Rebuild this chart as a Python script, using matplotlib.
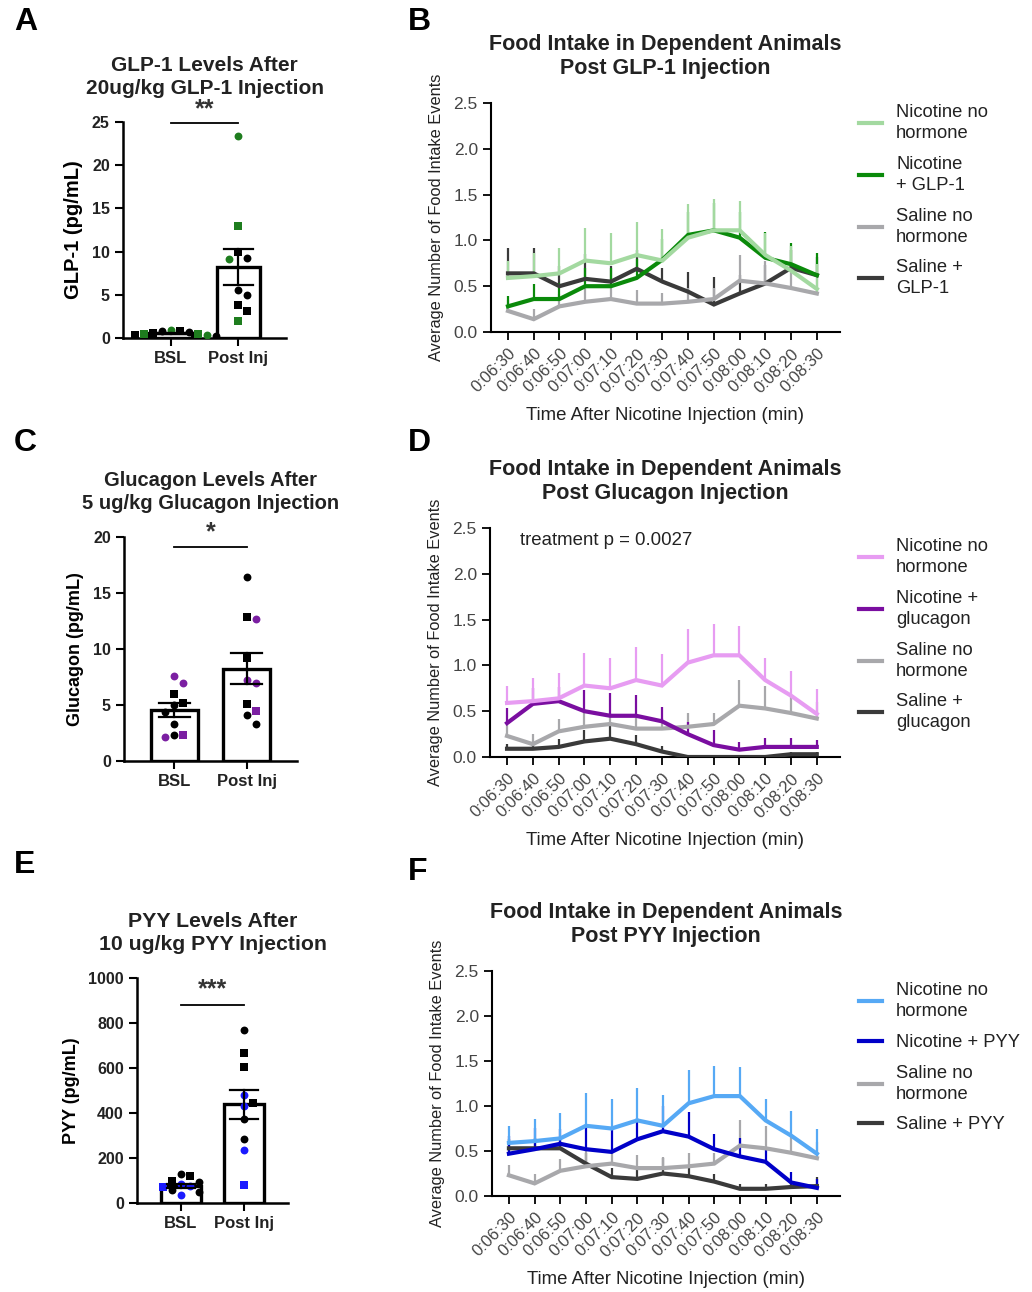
import numpy as np
import matplotlib
matplotlib.use("Agg")
import matplotlib.pyplot as plt

plt.rcParams['font.family'] = ['Liberation Sans', 'DejaVu Sans']

# ---------------- data ----------------
time_labels = ["0:06:30", "0:06:40", "0:06:50", "0:07:00", "0:07:10", "0:07:20", "0:07:30",
               "0:07:40", "0:07:50", "0:08:00", "0:08:10", "0:08:20", "0:08:30"]

nic_no_mean = [0.59, 0.61, 0.64, 0.78, 0.75, 0.84, 0.78, 1.03, 1.11, 1.11, 0.84, 0.67, 0.47]
nic_no_sem = [0.19, 0.25, 0.28, 0.36, 0.33, 0.36, 0.34, 0.37, 0.34, 0.32, 0.24, 0.27, 0.27]
sal_no_mean = [0.23, 0.14, 0.28, 0.33, 0.36, 0.31, 0.31, 0.33, 0.36, 0.56, 0.53, 0.48, 0.42]
sal_no_sem = [0.12, 0.11, 0.13, 0.17, 0.12, 0.15, 0.12, 0.15, 0.12, 0.28, 0.25, 0.20, 0.18]

nic_glp_mean = [0.28, 0.36, 0.36, 0.50, 0.50, 0.59, 0.79, 1.06, 1.11, 1.03, 0.81, 0.74, 0.62]
nic_glp_sem = [0.11, 0.16, 0.18, 0.20, 0.20, 0.21, 0.22, 0.25, 0.30, 0.28, 0.28, 0.23, 0.24]
sal_glp_mean = [0.64, 0.64, 0.50, 0.58, 0.55, 0.69, 0.55, 0.44, 0.30, 0.42, 0.53, 0.70, 0.62]
sal_glp_sem = [0.28, 0.28, 0.22, 0.27, 0.17, 0.20, 0.15, 0.22, 0.30, 0.20, 0.20, 0.20, 0.20]

nic_gcg_mean = [0.37, 0.58, 0.61, 0.50, 0.45, 0.45, 0.39, 0.25, 0.13, 0.08, 0.11, 0.11, 0.11]
nic_gcg_sem = [0.17, 0.17, 0.15, 0.23, 0.25, 0.23, 0.16, 0.13, 0.16, 0.08, 0.10, 0.10, 0.08]
sal_gcg_mean = [0.09, 0.09, 0.11, 0.17, 0.20, 0.14, 0.06, 0.00, 0.00, 0.00, 0.00, 0.03, 0.03]
sal_gcg_sem = [0.05, 0.06, 0.09, 0.12, 0.18, 0.10, 0.06, 0.00, 0.00, 0.00, 0.00, 0.03, 0.03]

nic_pyy_mean = [0.47, 0.52, 0.58, 0.52, 0.49, 0.63, 0.72, 0.66, 0.52, 0.44, 0.38, 0.15, 0.09]
nic_pyy_sem = [0.20, 0.24, 0.17, 0.25, 0.28, 0.24, 0.28, 0.27, 0.17, 0.20, 0.15, 0.12, 0.10]
sal_pyy_mean = [0.53, 0.53, 0.53, 0.36, 0.21, 0.19, 0.25, 0.22, 0.16, 0.08, 0.08, 0.10, 0.11]
sal_pyy_sem = [0.10, 0.12, 0.10, 0.12, 0.10, 0.10, 0.17, 0.10, 0.08, 0.05, 0.05, 0.05, 0.10]

bar_groups = ["BSL", "Post Inj"]

# GLP-1 levels
glp_bar_mean = [0.55, 8.2]
glp_bar_sem = [0.08, 2.1]
glp_bsl_vals = [0.8, 0.6, 0.3, 0.9, 0.35, 0.5, 0.45, 0.25, 0.85, 0.7]
glp_bsl_hormone = [0, 0, 0, 1, 1, 1, 1, 0, 0, 0]
glp_bsl_square = [0, 1, 1, 0, 0, 1, 1, 0, 1, 0]
glp_post_vals = [23.4, 13.0, 9.9, 9.3, 9.1, 5.6, 5.0, 3.8, 3.1, 2.0]
glp_post_hormone = [1, 1, 0, 0, 1, 0, 0, 0, 0, 1]
glp_post_square = [0, 1, 1, 0, 0, 0, 0, 1, 1, 1]

# Glucagon levels
gcg_bar_mean = [4.55, 8.25]
gcg_bar_sem = [0.6, 1.4]
gcg_bsl_vals = [7.6, 7.0, 6.0, 5.2, 5.0, 4.4, 3.3, 2.3, 2.1, 2.3]
gcg_bsl_hormone = [1, 1, 0, 0, 0, 0, 0, 0, 1, 1]
gcg_bsl_square = [0, 0, 1, 1, 0, 0, 0, 0, 0, 1]
gcg_post_vals = [16.4, 12.9, 12.7, 9.2, 7.0, 7.2, 5.1, 4.5, 4.1, 3.3]
gcg_post_hormone = [0, 0, 1, 0, 1, 1, 0, 1, 0, 0]
gcg_post_square = [0, 1, 0, 1, 0, 0, 1, 1, 0, 0]

# PYY levels
pyy_bar_mean = [75, 438]
pyy_bar_sem = [9, 63]
pyy_bsl_vals = [130, 120, 100, 95, 75, 35, 60, 50, 85, 70]
pyy_bsl_hormone = [0, 0, 0, 0, 1, 1, 0, 0, 1, 1]
pyy_bsl_square = [0, 1, 1, 0, 0, 0, 0, 0, 0, 1]
pyy_post_vals = [770, 665, 605, 480, 445, 430, 375, 285, 235, 80]
pyy_post_hormone = [0, 0, 0, 1, 0, 1, 0, 0, 1, 1]
pyy_post_square = [0, 1, 1, 0, 1, 0, 0, 0, 0, 1]

# ---------------- styles ----------------
W, H = 1032, 1292
fig = plt.figure(figsize=(W / 100, H / 100), dpi=100)

def ax_px(l, t, r, b):
    return fig.add_axes([l / W, 1 - b / H, (r - l) / W, (b - t) / H])

GREY = "#a8a8ab"
DARK = "#3a3a3a"
TXT = "#222222"

def swarm_offsets(vals, ylim, ax_h_px, px_per_unit_x, d_px=9.0):
    vals = np.asarray(vals, float)
    ypx = vals / (ylim[1] - ylim[0]) * ax_h_px
    order = np.argsort(-vals)
    placed = []
    offs = np.zeros(len(vals))
    cands = [0]
    for k in range(1, 12):
        cands += [k, -k]
    for i in order:
        for c in cands:
            xo = c * d_px
            ok = all((xo - px) ** 2 + (ypx[i] - py) ** 2 >= d_px ** 2 for px, py in placed)
            if ok:
                placed.append((xo, ypx[i]))
                offs[i] = xo / px_per_unit_x
                break
    return offs

def bar_panel(rect, title, ylabel, ylfs, tfs, ylim, yticks, means, sems, pts, hcolor, sig, sig_y, star_y):
    l, t, r, b = rect
    ax = ax_px(l, t, r, b)
    xlim = (-0.7, 1.7)
    ax.set_xlim(*xlim)
    ax.set_ylim(*ylim)
    ax.bar([0, 1], means, width=0.64, color="white", edgecolor="black", linewidth=2.4, zorder=1)
    px_per_unit = (r - l) / (xlim[1] - xlim[0])
    for gi, (vals, horm, sq) in enumerate(pts):
        offs = swarm_offsets(vals, ylim, b - t, px_per_unit)
        for v, hh, s, o in zip(vals, horm, sq, offs):
            ax.scatter(gi + o, v, s=32, marker="s" if s else "o",
                       color=hcolor if hh else "black", zorder=3, linewidths=0)
    for gi in range(2):
        m, e = means[gi], sems[gi]
        ax.plot([gi, gi], [m - e, m + e], color="black", lw=1.6, zorder=4)
        ax.plot([gi - 0.22, gi + 0.22], [m + e, m + e], color="black", lw=1.6, zorder=4)
        ax.plot([gi - 0.22, gi + 0.22], [m - e, m - e], color="black", lw=1.6, zorder=4)
    ax.plot([0, 1], [sig_y, sig_y], color="black", lw=1.3, clip_on=False)
    ax.text(0.5, star_y, sig, ha="center", va="center", fontsize=18, fontweight="bold", color="#333")
    for s in ["top", "right"]:
        ax.spines[s].set_visible(False)
    for s in ["left", "bottom"]:
        ax.spines[s].set_linewidth(1.8)
    ax.set_yticks(yticks)
    ax.set_xticks([0, 1])
    ax.set_xticklabels(bar_groups)
    ax.tick_params(axis="both", width=1.5, length=6, labelsize=11.5, colors="black")
    ax.tick_params(axis="x", labelsize=12)
    for lab in ax.get_xticklabels() + ax.get_yticklabels():
        lab.set_fontweight("bold")
        lab.set_color(TXT)
    ax.set_ylabel(ylabel, fontsize=ylfs, fontweight="bold", labelpad=6)
    ax.set_title(title, fontsize=tfs, fontweight="bold", pad=20, color=TXT, linespacing=1.3)
    return ax

def line_panel(rect, title, series, labels, leg_top, note=None):
    l, t, r, b = rect
    ax = ax_px(l, t, r, b)
    x = np.arange(len(time_labels))
    handles = []
    for (mean, sem, col) in series:
        mean = np.asarray(mean); sem = np.asarray(sem)
        ax.vlines(x, mean, mean + sem, color=col, lw=1.6, zorder=2)
        ln, = ax.plot(x, mean, color=col, lw=3.0, zorder=3, solid_joinstyle="miter")
        handles.append(ln)
    ax.set_xlim(-0.66, 12.9)
    ax.set_ylim(0, 2.5)
    ax.set_yticks([0, 0.5, 1.0, 1.5, 2.0, 2.5])
    ax.set_yticklabels(["0.0", "0.5", "1.0", "1.5", "2.0", "2.5"])
    ax.set_xticks(x)
    ax.set_xticklabels(time_labels, rotation=45, ha="right", rotation_mode="anchor")
    for s in ["top", "right"]:
        ax.spines[s].set_visible(False)
    for s in ["left", "bottom"]:
        ax.spines[s].set_linewidth(1.5)
    ax.tick_params(axis="both", width=1.3, length=6, labelsize=12.5, labelcolor="#444")
    ax.tick_params(axis="x", labelsize=12, pad=4)
    ax.set_ylabel("Average Number of Food Intake Events", fontsize=11.8, color=TXT, labelpad=7)
    ax.set_xlabel("Time After Nicotine Injection (min)", fontsize=13.4, color=TXT, labelpad=8)
    ax.set_title(title, fontsize=15.5, fontweight="bold", pad=21, color=TXT, linespacing=1.15)
    leg = ax.legend([handles[3], handles[2], handles[1], handles[0]], labels, loc="upper left",
                    bbox_to_anchor=(852 / W, 1 - leg_top / H), bbox_transform=fig.transFigure,
                    frameon=False, fontsize=13.2, handlelength=1.25, handletextpad=0.75,
                    labelspacing=0.75, borderaxespad=0)
    for lh in leg.get_lines():
        lh.set_linewidth(3)
    for txt in leg.get_texts():
        txt.set_color(TXT)
        txt.set_linespacing(1.3)
    if note:
        ax.text(0.5, 2.36, note, fontsize=13.4, color=TXT, ha="left", va="center")
    return ax

# Panel A
bar_panel((123, 122, 286, 338), "GLP-1 Levels After\n20ug/kg GLP-1 Injection", "GLP-1 (pg/mL)", 14.5, 15,
          (0, 25), [0, 5, 10, 15, 20, 25], glp_bar_mean, glp_bar_sem,
          [(glp_bsl_vals, glp_bsl_hormone, glp_bsl_square), (glp_post_vals, glp_post_hormone, glp_post_square)],
          "#1e7d1e", "**", 24.9, 26.5)
# Panel C
bar_panel((124, 537, 297, 761), "Glucagon Levels After\n5 ug/kg Glucagon Injection", "Glucagon (pg/mL)", 13, 14.5,
          (0, 20), [0, 5, 10, 15, 20], gcg_bar_mean, gcg_bar_sem,
          [(gcg_bsl_vals, gcg_bsl_hormone, gcg_bsl_square), (gcg_post_vals, gcg_post_hormone, gcg_post_square)],
          "#7b1fa2", "*", 19.1, 20.4)
# Panel E
bar_panel((137, 978, 288, 1203), "PYY Levels After\n10 ug/kg PYY Injection", "PYY (pg/mL)", 13, 15.3,
          (0, 1000), [0, 200, 400, 600, 800, 1000], pyy_bar_mean, pyy_bar_sem,
          [(pyy_bsl_vals, pyy_bsl_hormone, pyy_bsl_square), (pyy_post_vals, pyy_post_hormone, pyy_post_square)],
          "#1a1aff", "***", 880, 950)

# Panel B
line_panel((491, 103, 840, 332), "Food Intake in Dependent Animals\nPost GLP-1 Injection",
           [(sal_glp_mean, sal_glp_sem, DARK), (sal_no_mean, sal_no_sem, GREY),
            (nic_glp_mean, nic_glp_sem, "#0a8a0a"), (nic_no_mean, nic_no_sem, "#a3d9a0")],
           ["Nicotine no\nhormone", "Nicotine\n+ GLP-1", "Saline no\nhormone", "Saline +\nGLP-1"], 97)
# Panel D
line_panel((490, 528, 840, 757), "Food Intake in Dependent Animals\nPost Glucagon Injection",
           [(sal_gcg_mean, sal_gcg_sem, DARK), (sal_no_mean, sal_no_sem, GREY),
            (nic_gcg_mean, nic_gcg_sem, "#7a0ea0"), (nic_no_mean, nic_no_sem, "#e79cf2")],
           ["Nicotine no\nhormone", "Nicotine +\nglucagon", "Saline no\nhormone", "Saline +\nglucagon"], 531,
           note="treatment p = 0.0027")
# Panel F
line_panel((492, 971, 840, 1196), "Food Intake in Dependent Animals\nPost PYY Injection",
           [(sal_pyy_mean, sal_pyy_sem, DARK), (sal_no_mean, sal_no_sem, GREY),
            (nic_pyy_mean, nic_pyy_sem, "#0000c8"), (nic_no_mean, nic_no_sem, "#56a9f5")],
           ["Nicotine no\nhormone", "Nicotine + PYY", "Saline no\nhormone", "Saline + PYY"], 975)

# Panel letters
for letter, (px, py) in {"A": (14, 22), "B": (408, 22), "C": (14, 443), "D": (408, 443),
                         "E": (14, 865), "F": (408, 872)}.items():
    fig.text(px / W, 1 - py / H, letter, fontsize=23, fontweight="bold", ha="left", va="center")

fig.savefig("out.png", dpi=100, facecolor="white")
